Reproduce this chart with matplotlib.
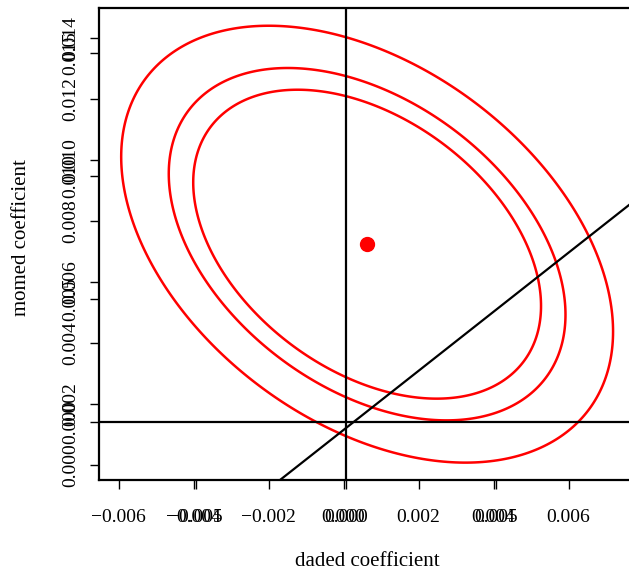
import numpy as np
import matplotlib
matplotlib.use("Agg")
import matplotlib.pyplot as plt
from matplotlib.patches import Polygon

# Joint confidence region for the two coefficients
center = [0.00063, 0.00724]          # (daded, momed) estimate
std_err = [0.002161, 0.002360]       # standard errors
corr = -0.40                         # correlation of the estimates
levels = [0.90, 0.95, 0.99]          # confidence levels of the ellipses

# Reference lines (in the second coordinate frame)
h_line = 0.0
v_line = 0.0
diag_intercept = -0.000244
diag_slope = 0.9628

# Tick values of the two overlaid axis systems
x_ticks = [-0.006, -0.004, -0.002, 0.000, 0.002, 0.004, 0.006]
y_ticks = [0.000, 0.002, 0.004, 0.006, 0.008, 0.010, 0.012, 0.014]
x2_ticks = [-0.005, 0.000, 0.005]
y2_ticks = [0.000, 0.005, 0.010, 0.015]

xlabel = "daded coefficient"
ylabel = "momed coefficient"

FONT = "Liberation Serif"
FS = 14
FS_LAB = 15

def fmt(v):
    s = f"{abs(v):.3f}"
    return ("\u2212" + s) if v < -1e-12 else s

W, H = 629, 571
fig = plt.figure(figsize=(W / 100, H / 100), dpi=100)
L, R, T, B = 99, 636, 8, 480
pos = [L / W, (H - B) / H, (R - L) / W, (B - T) / H]

ax = fig.add_axes(pos)
ax.set_xlim(-0.00652, 0.0078)
ax.set_ylim(-0.000492, 0.014984)

# confidence ellipses
cov = np.array([[std_err[0] ** 2, corr * std_err[0] * std_err[1]],
                [corr * std_err[0] * std_err[1], std_err[1] ** 2]])
chol = np.linalg.cholesky(cov)
t = np.linspace(0, 2 * np.pi, 360, endpoint=False)
unit = np.vstack([np.cos(t), np.sin(t)])
for lev in levels:
    r = np.sqrt(-2.0 * np.log(1.0 - lev))
    pts = (chol @ unit * r).T + np.asarray(center)
    ax.add_patch(Polygon(pts, closed=True, fill=False, edgecolor="#ff0000",
                         lw=1.8, joinstyle="round"))
ax.plot([center[0]], [center[1]], "o", color="#ff0000", ms=10, mec="#ff0000")

for s in ax.spines.values():
    s.set_linewidth(1.6)
ax.spines["right"].set_visible(False)

ax.set_xticks(x_ticks)
ax.set_xticklabels([fmt(v) for v in x_ticks], fontfamily=FONT, fontsize=FS)
ax.set_yticks(y_ticks)
ax.set_yticklabels([fmt(v) for v in y_ticks], fontfamily=FONT, fontsize=FS,
                   rotation=90, va="center")
ax.tick_params(axis="x", length=6.5, width=1.0, pad=14.5)
ax.tick_params(axis="y", length=6.5, width=1.0, pad=8)

# second coordinate frame with its own axes and reference lines
ax2 = fig.add_axes(pos)
ax2.patch.set_visible(False)
for s in ax2.spines.values():
    s.set_visible(False)
ax2.set_xlim(-0.008217, 0.009647)
ax2.set_ylim(-0.002358, 0.016829)
ax2.axhline(h_line, color="black", lw=1.6)
ax2.axvline(v_line, color="black", lw=1.6)
ax2.axline((0.0, diag_intercept), slope=diag_slope, color="black", lw=1.6)
ax2.set_xticks(x2_ticks)
ax2.set_xticklabels([fmt(v) for v in x2_ticks], fontfamily=FONT, fontsize=FS)
ax2.set_yticks(y2_ticks)
ax2.set_yticklabels([fmt(v) for v in y2_ticks], fontfamily=FONT, fontsize=FS,
                    rotation=90, va="center")
ax2.tick_params(axis="x", length=6.5, width=1.0, pad=14.5)
ax2.tick_params(axis="y", length=6.5, width=1.0, pad=8)

fig.text(((L + R) / 2) / W, 1 - 561 / H, xlabel, ha="center", va="center",
         fontfamily=FONT, fontsize=FS_LAB)
fig.text(22 / W, 1 - 238 / H, ylabel, ha="center", va="center",
         rotation=90, fontfamily=FONT, fontsize=FS_LAB)

fig.savefig("out.png", dpi=100)
